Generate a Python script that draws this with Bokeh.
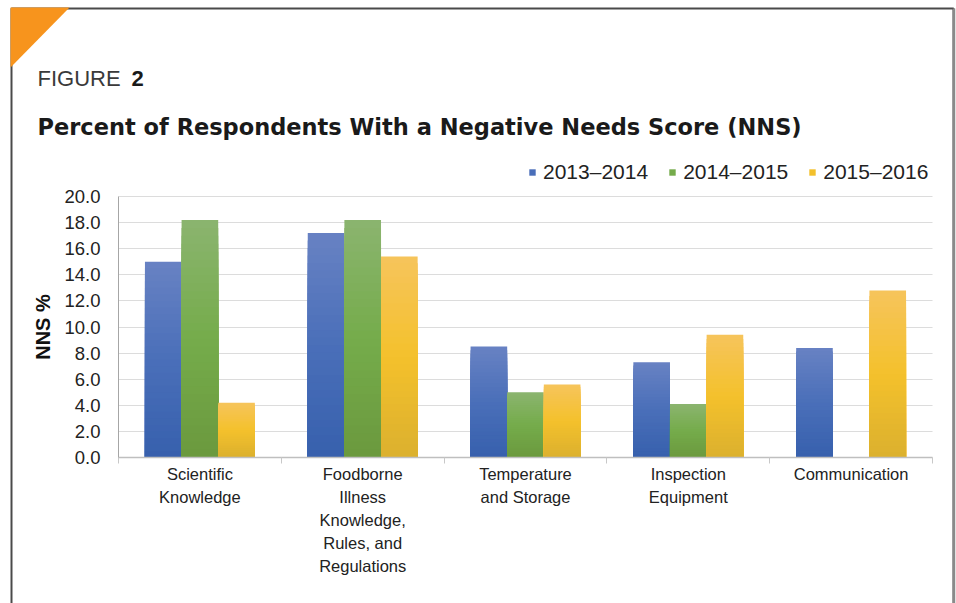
import numpy as np
from bokeh.plotting import figure
from bokeh.models import (FixedTicker, NumeralTickFormatter, Range1d, Label,
                          PolyAnnotation, Legend, LegendItem)
from bokeh.embed import file_html
from bokeh.resources import INLINE

# ---------------- data ----------------
categories = [
    "Scientific\nKnowledge",
    "Foodborne\nIllness\nKnowledge,\nRules, and\nRegulations",
    "Temperature\nand Storage",
    "Inspection\nEquipment",
    "Communication",
]
series_names = ["2013\u20132014", "2014\u20132015", "2015\u20132016"]
nns_2013_2014 = [15.0, 17.2, 8.5, 7.3, 8.4]
nns_2014_2015 = [18.2, 18.2, 5.0, 4.1, np.nan]
nns_2015_2016 = [4.2, 15.4, 5.6, 9.4, 12.8]
y_ticks = [0.0, 2.0, 4.0, 6.0, 8.0, 10.0, 12.0, 14.0, 16.0, 18.0, 20.0]
figure_label = "FIGURE"
figure_number = "2"
title_text = "Percent of Respondents With a Negative Needs Score (NNS)"
y_label = "NNS %"

series_values = [nns_2013_2014, nns_2014_2015, nns_2015_2016]

# ---------------- styling ----------------
gradients = [
    ["#3760ad", "#4a6fb9", "#6882c3"],
    ["#6b993e", "#75ac4b", "#8bb46f"],
    ["#dbb02e", "#f4c12c", "#f6c45c"],
]

W, H = 956, 603
# pixel placement of the plotting area (canvas pixels)
AX_LEFT, AX_RIGHT = 118.0, 932.0
AX_TOP, AX_BOTTOM = 196.0, 457.0
n_cat = len(categories)
y_max = y_ticks[-1]
px_x = (AX_RIGHT - AX_LEFT) / n_cat
px_y = (AX_BOTTOM - AX_TOP) / y_max
x_start = -AX_LEFT / px_x
x_end = n_cat + (W - AX_RIGHT) / px_x
y_start = -(H - AX_BOTTOM) / px_y
y_end = y_max + AX_TOP / px_y


def hex2rgb(h):
    h = h.lstrip("#")
    return np.array([int(h[i:i + 2], 16) for i in (0, 2, 4)], dtype=float)


def interp_color(stops, t):
    cols = [hex2rgb(s) for s in stops]
    if t <= 0.5:
        c = cols[0] + (cols[1] - cols[0]) * (t / 0.5)
    else:
        c = cols[1] + (cols[2] - cols[1]) * ((t - 0.5) / 0.5)
    return "#%02x%02x%02x" % tuple(int(round(x)) for x in c)


p = figure(width=W, height=H, output_backend="svg", toolbar_location=None,
           x_range=Range1d(x_start, x_end), y_range=Range1d(y_start, y_end),
           min_border_left=0, min_border_right=0, min_border_top=0,
           min_border_bottom=0)
p.outline_line_color = None
p.background_fill_color = "white"
p.border_fill_color = "white"

centers = [i + 0.5 for i in range(n_cat)]
bar_w = 0.225
offsets = [-bar_w, 0.0, bar_w]

N = 30
legend_items = []
for name, vals, stops, off in zip(series_names, series_values, gradients, offsets):
    xs = [c + off for c, v in zip(centers, vals) if np.isfinite(v)]
    vv = [v for v in vals if np.isfinite(v)]
    legend_r = None
    for k in range(N, 0, -1):
        frac = k / N
        col = interp_color(stops, (k - 0.5) / N)
        r = p.vbar(x=xs, bottom=0, top=[v * frac for v in vv], width=bar_w,
                   fill_color=col, line_color=None)
        if k == N // 2:
            legend_r = r
    legend_items.append(LegendItem(label=name, renderers=[legend_r]))

legend = Legend(items=legend_items, orientation="horizontal",
                location=(528, H - 184), spacing=20, label_standoff=7,
                glyph_width=8, glyph_height=8, label_height=24, padding=0, margin=0,
                border_line_color=None, background_fill_alpha=0,
                label_text_font="Liberation Sans", label_text_font_size="21px",
                label_text_color="#222222")
p.add_layout(legend, "center")

# ---------------- axes ----------------
p.yaxis.fixed_location = 0
p.yaxis.bounds = (0, y_max)
p.yaxis.ticker = FixedTicker(ticks=y_ticks)
p.yaxis.formatter = NumeralTickFormatter(format="0.0")
p.yaxis.major_tick_line_color = None
p.yaxis.minor_tick_line_color = None
p.yaxis.axis_line_color = "#a6a6a6"
p.yaxis.major_label_text_font = "Liberation Sans"
p.yaxis.major_label_text_font_size = "18.5px"
p.yaxis.major_label_text_color = "#222222"
p.yaxis.major_label_standoff = 12
p.yaxis.axis_label = y_label
p.yaxis.axis_label_text_font = "Liberation Sans"
p.yaxis.axis_label_text_font_style = "bold"
p.yaxis.axis_label_text_font_size = "20px"
p.yaxis.axis_label_text_color = "#111111"
p.yaxis.axis_label_standoff = 7

p.xaxis.fixed_location = 0
p.xaxis.bounds = (0, n_cat)
p.xaxis.ticker = FixedTicker(ticks=centers, minor_ticks=list(range(n_cat + 1)))
p.xaxis.major_label_overrides = {c: lab for c, lab in zip(centers, categories)}
p.xaxis.major_tick_line_color = None
p.xaxis.minor_tick_line_color = "#c8c8c8"
p.xaxis.minor_tick_in = 0
p.xaxis.minor_tick_out = 6
p.xaxis.axis_line_color = "#bfbfbf"
p.xaxis.axis_line_width = 1.5
p.xaxis.major_label_text_font = "Liberation Sans"
p.xaxis.major_label_text_font_size = "16.5px"
p.xaxis.major_label_text_line_height = 1.28
p.xaxis.major_label_text_color = "#222222"
p.xaxis.major_label_standoff = 1

p.xgrid.grid_line_color = None
p.ygrid.ticker = FixedTicker(ticks=y_ticks)
p.ygrid.cross_bounds = (0, n_cat)
p.ygrid.grid_line_color = "#dcdcdc"
p.ygrid.grid_line_width = 1.2

# ---------------- frame and corner triangle ----------------
p.add_layout(PolyAnnotation(xs=[11, 11, 953, 953], ys=[700, 8, 8, 700],
                            xs_units="canvas", ys_units="canvas",
                            fill_alpha=0, line_color="#4a4a4a", line_alpha=1,
                            line_width=2))
p.add_layout(PolyAnnotation(xs=[953.5, 953.5], ys=[8, 700],
                            xs_units="canvas", ys_units="canvas",
                            fill_alpha=0, line_color="#8a8a8a", line_alpha=1,
                            line_width=2.5))
p.add_layout(PolyAnnotation(xs=[10, 69, 10], ys=[7, 7, 67],
                            xs_units="canvas", ys_units="canvas",
                            fill_color="#f7941d", fill_alpha=1, line_color=None))

# ---------------- titles ----------------
p.add_layout(Label(x=37, y=78, x_units="canvas", y_units="canvas", text=figure_label,
                   text_font="Liberation Sans", text_font_size="22px",
                   text_color="#3a3a3a", text_baseline="alphabetic"))
p.add_layout(Label(x=131, y=78, x_units="canvas", y_units="canvas", text=figure_number,
                   text_font="Liberation Sans", text_font_style="bold",
                   text_font_size="22px", text_color="#1a1a1a", text_baseline="alphabetic"))
p.add_layout(Label(x=37, y=126, x_units="canvas", y_units="canvas", text=title_text,
                   text_font="DejaVu Sans", text_font_style="bold",
                   text_font_size="22.5px", text_color="#1a1a1a", text_baseline="alphabetic"))

open("out.html", "w").write(file_html(p, INLINE))
